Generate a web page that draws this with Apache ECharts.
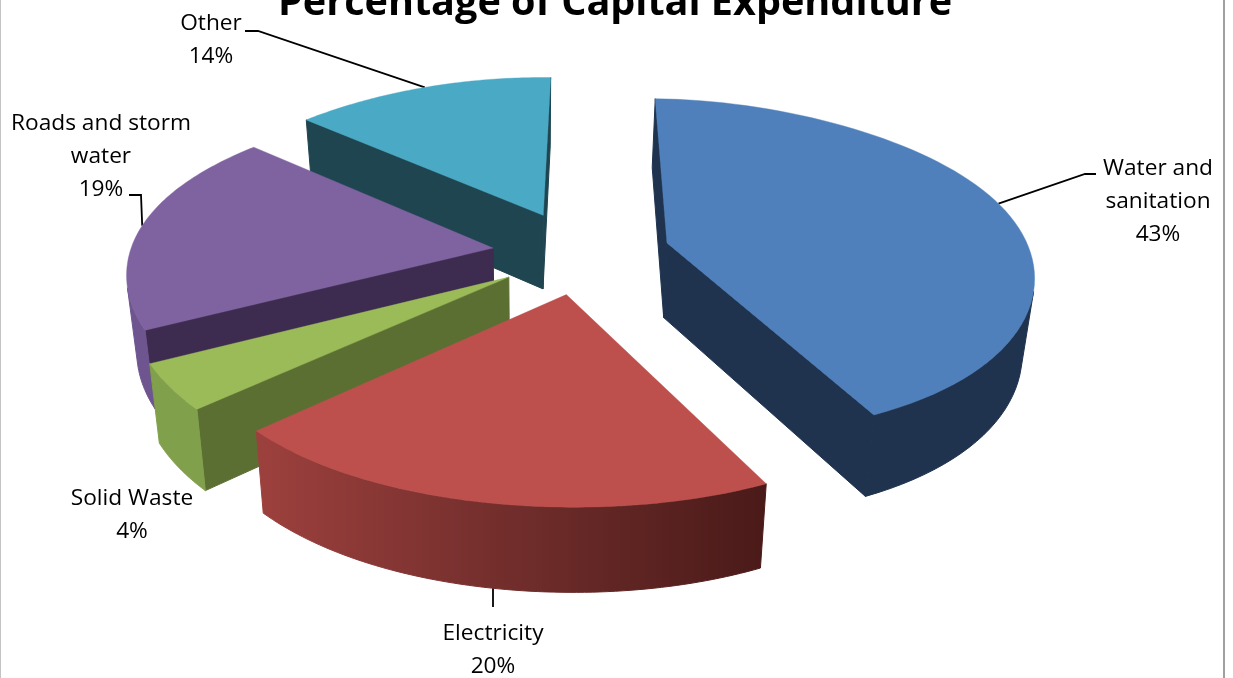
<!DOCTYPE html>
<html>
<head>
<meta charset="utf-8">
<style>html,body{margin:0;padding:0;background:#fff;overflow:hidden}#c{width:1233px;height:678px}</style>
<script src="https://cdn.jsdelivr.net/npm/echarts@6/dist/echarts.min.js"></script>
</head>
<body>
<div id="c"></div>
<script>
// ---- data ----
const categories = ['Water and\nsanitation', 'Electricity', 'Solid Waste', 'Roads and storm\nwater', 'Other'];
const shares = [43, 20, 4, 19, 14];

// ---- style and layout ----
const topColors = ['#4f80bb', '#bd504d', '#9bbb59', '#7f62a0', '#4aa9c4'];
const radialWall = ['#1f334f', '#6e2a28', '#5c6f33', '#3d2c50', '#1f4550'];
const outerWall = ['#1f334f', null, '#81a04c', '#6f5590', '#3a8aa0'];
const paintRank = [3, 4, 2, 1, 0];
const labelAt = [[1158, 168], [493, 633], [132, 498], [101, 123], [211, 23]];
const leaderElbow = [[[1096, 174], [1085, 174]], [[493, 607]], null, [[129, 195], [141, 195]], [[245, 31], [258, 31]]];
const leaderBiasDeg = [-0.8, 0, 0, -0.3, 0.5];

const FONT = '"Open Sans","Noto Sans",sans-serif';
const CX = 581.5, CY = 252, R = 357, EXPLODE = 89, KY = 0.47, FX = 1900, FY = 2450, VX = 534, H = 75, SIDE_LIFT = 18, SIDE_WIDEN = 7;
const BOTTOM_SHRINK = 0.975, BOTTOM_Y = 1.04;
const DEG = Math.PI / 180;
const total = shares.reduce((a, b) => a + b, 0);
// the reference's projection bends the sector angles a little
const bend = t => t + (0.75 + 1.0 * Math.cos(t) + 0.9 * Math.sin(t)) * DEG;

function project(X, Y, bottom) {
  const sx = 1 / (1 - Y / FX), sy = 1 / (1 - Y / FY);
  const px = (X + CX - VX) * sx;
  const py = Y * KY * sy;
  return bottom
    ? [VX + px * BOTTOM_SHRINK, CY + py * BOTTOM_Y + H]
    : [VX + px, CY + py];
}
function area(p) {
  let a = 0;
  p.forEach((q, i) => { const n = p[(i + 1) % p.length]; a += q[0] * n[1] - n[0] * q[1]; });
  return a;
}
function renderItem(params, api) {
  const i = params.dataIndex;
  const before = shares.slice(0, i).reduce((a, b) => a + b, 0);
  const v = api.value(0);
  const a0 = before / total * 2 * Math.PI, a1 = (before + v) / total * 2 * Math.PI, mid = (a0 + a1) / 2;
  const ox = EXPLODE * Math.sin(mid), oy = -EXPLODE * Math.cos(mid);
  const world = t => {
    const b = bend(t), s = Math.sin(b);
    return [ox + R * s + SIDE_WIDEN * s * s * s, oy - R * Math.cos(b) - SIDE_LIFT * s * s * s * s];
  };
  const STEPS = 72;
  const rim = [];
  for (let k = 0; k <= STEPS; k++) rim.push(world(a0 + (a1 - a0) * k / STEPS));
  const apex = [ox, oy];
  const z = 10 + paintRank[i] * 10;
  const kids = [];
  const poly = (pts, fill, zz) => kids.push({
    type: 'polygon', z2: z + zz, shape: { points: pts },
    style: { fill: fill, stroke: fill, lineWidth: zz === 2 ? 0.4 : 1 }
  });
  const quad = (u, v2) => [project(u[0], u[1]), project(v2[0], v2[1]), project(v2[0], v2[1], true), project(u[0], u[1], true)];
  // radial walls, culled by their facing
  [[apex, rim[0]], [rim[STEPS], apex]].forEach(e => {
    const q = quad(e[0], e[1]);
    if (area(q) < 0) poly(q, radialWall[i], 0);
  });
  // outer wall
  const vis = [];
  for (let k = 0; k < STEPS; k++) if (area(quad(rim[k], rim[k + 1])) < 0) { vis.push(k); }
  if (vis.length) {
    const idx = vis.concat([vis[vis.length - 1] + 1]);
    const pts = idx.map(k => project(rim[k][0], rim[k][1]))
      .concat(idx.slice().reverse().map(k => project(rim[k][0], rim[k][1], true)));
    const fill = outerWall[i] || new echarts.graphic.LinearGradient(262, 0, 765, 0, [
      { offset: 0, color: '#9c403d' }, { offset: 0.45, color: '#752f2d' },
      { offset: 0.72, color: '#5f2523' }, { offset: 1, color: '#4a1a19' }
    ], true);
    poly(pts, fill, 1);
  }
  // top face
  const top = [project(apex[0], apex[1])].concat(rim.map(w => project(w[0], w[1])));
  poly(top, topColors[i], 2);
  // leader line
  const elbow = leaderElbow[i];
  if (elbow) {
    let start;
    if (elbow.length === 1) start = [elbow[0][0], elbow[0][1] - 40];
    else { const m = world(mid + leaderBiasDeg[i] * DEG); start = project(m[0], m[1]); }
    kids.push({
      type: 'polyline', z2: 1, shape: { points: elbow.concat([start]) },
      style: { stroke: '#000', lineWidth: 1.8, fill: null }
    });
  }
  // data label
  kids.push({
    type: 'text', z2: 200,
    style: {
      text: categories[i] + '\n' + v + '%', x: labelAt[i][0], y: labelAt[i][1] - 16,
      align: 'center', verticalAlign: 'top', lineHeight: 33, fill: '#000',
      font: '22.7px ' + FONT
    }
  });
  return { type: 'group', children: kids };
}

const chart = echarts.init(document.getElementById('c'), null, { renderer: 'canvas' });
chart.setOption({
  animation: false,
  backgroundColor: '#fff',
  title: {
    text: 'Percentage of Capital Expenditure', left: 610, top: -21, textAlign: 'center',
    textStyle: { fontFamily: FONT, fontSize: 39.6, fontWeight: 'bold', color: '#000' }
  },
  graphic: [
    { type: 'rect', shape: { x: 0, y: 0, width: 1, height: 678 }, style: { fill: '#c4c4c4' } },
    { type: 'rect', shape: { x: 1223, y: 0, width: 2, height: 678 }, style: { fill: '#a0a0a0' } }
  ],
  series: [{
    type: 'custom', coordinateSystem: 'none', renderItem: renderItem,
    clip: false, silent: true,
    data: shares.map((v, i) => ({ name: categories[i], value: [v] }))
  }]
});
</script>
</body>
</html>
